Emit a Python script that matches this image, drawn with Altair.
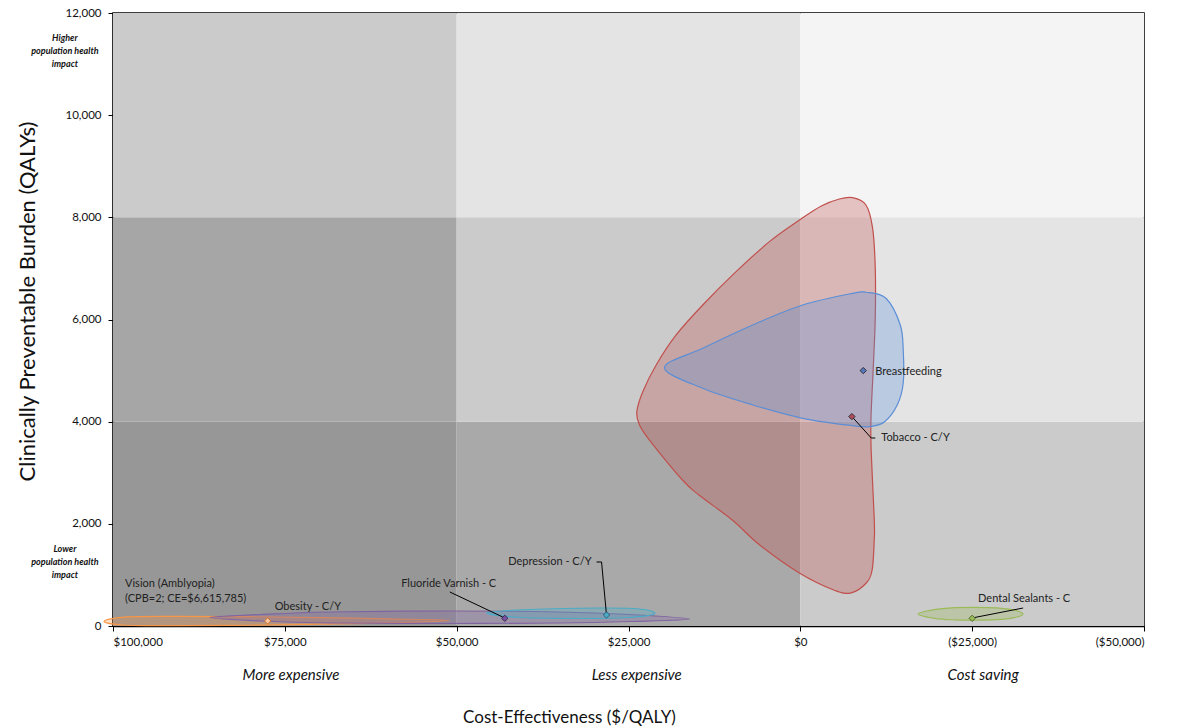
import altair as alt
import pandas as pd

FONT = "Lato"

# ---- shaded zones: three cost bands (x) by three burden bands (y) ----
zone_ce = [100000, 50000, 0, 100000, 50000, 0, 100000, 50000, 0]
zone_ce2 = [50000, 0, -50000, 50000, 0, -50000, 50000, 0, -50000]
zone_qaly = [0, 0, 0, 4000, 4000, 4000, 8000, 8000, 8000]
zone_qaly2 = [4000, 4000, 4000, 8000, 8000, 8000, 12000, 12000, 12000]
zone_fill = ["#979797", "#a9a9a9", "#cbcbcb",
             "#a6a6a6", "#cbcbcb", "#e4e4e4",
             "#cbcbcb", "#e4e4e4", "#f4f4f4"]

# ---- uncertainty regions, outlined clockwise ($/QALY, QALYs) ----
obesity_ce = [101300, 98000, 90000, 80000, 70000, 60000, 51000, 60000, 70000, 80000, 90000, 98000]
obesity_qaly = [90, 178, 188, 182, 165, 140, 110, 60, 35, 15, 8, 15]

fluoride_ce = [85900, 78600, 68500, 51000, 35000, 24900, 16100, 24900, 35000, 51000, 68500, 78600]
fluoride_qaly = [166, 225, 274, 294, 274, 225, 137, 88, 59, 49, 59, 98]

depression_ce = [45600, 39400, 29200, 23400, 21200, 24900, 32100, 40800]
depression_qaly = [255, 323, 352, 333, 245, 166, 147, 166]

dental_ce = [-17150, -19500, -22500, -25300, -28500, -31000, -32400, -31000, -28500, -25300, -22500, -19500]
dental_qaly = [235, 320, 358, 365, 355, 315, 235, 160, 125, 115, 120, 150]

tobacco_ce = [-7600, -9550, -10510, -10900, -10900, -10610, -10280, -10300, -10760, -10750,
              -10450, -9590, -7400, -4950, 150, 5950, 9900, 14700, 17150, 21950, 23400,
              23790, 22920, 20970, 18070, 14200, 9350, 4500, -100, -3050, -5670]
tobacco_qaly = [8385, 8242, 7792, 7009, 6030, 5051, 4072, 3450, 2075, 1680,
                1100, 842, 650, 700, 1038, 1590, 2075, 2560, 2858, 3640, 3935,
                4195, 4587, 5110, 5697, 6284, 6936, 7524, 7968, 8222, 8359]

breastfeeding_ce = [-9550, -12457, -14540, -14970, -14970, -14100, -12210, -10030, -7600,
                    -335, 6932, 14200, 19767, 14200, 6932, -335, -7600]
breastfeeding_qaly = [6533, 6415, 5893, 5403, 4757, 4327, 3994, 3902, 3921,
                      4066, 4327, 4653, 5057, 5437, 5893, 6284, 6513]

regions = [
    ("Obesity", obesity_ce, obesity_qaly, "#F79646"),
    ("Fluoride Varnish", fluoride_ce, fluoride_qaly, "#8064A2"),
    ("Depression", depression_ce, depression_qaly, "#4BACC6"),
    ("Dental Sealants", dental_ce, dental_qaly, "#9BBB59"),
    ("Tobacco", tobacco_ce, tobacco_qaly, "#C0504D"),
    ("Breastfeeding", breastfeeding_ce, breastfeeding_qaly, "#5B8ED6"),
]

# ---- point estimates ----
pt_name = ["Breastfeeding", "Tobacco", "Depression", "Fluoride Varnish", "Obesity", "Dental Sealants"]
pt_ce = [-9150, -7500, 28200, 43000, 77500, -25000]
pt_qaly = [5000, 4100, 215, 150, 100, 150]
pt_fill = ["#5577C0", "#B24A5E", "#4BACC6", "#7A4FA0", "#F6C9A0", "#9BBB59"]
pt_edge = ["#333333", "#333333", "#2F5F7A", "#3A2A55", "#D0702A", "#4A6A2A"]

# ---- leader lines from labels to points ----
lead_seg = ["tob", "tob", "tob", "dep", "dep", "dep", "flu", "flu", "den", "den"]
lead_ce = [-7500, -10320, -10900, 28200, 28920, 29650, 43300, 51000, -25000, -32410]
lead_qaly = [4100, 3680, 3680, 215, 1253, 1253, 176, 666, 157, 352]

# ---- point labels ----
lab_left_text = ["Breastfeeding", "Tobacco - C/Y", "Vision (Amblyopia)\n(CPB=2; CE=$6,615,785)"]
lab_left_ce = [-10900, -11770, 98250]
lab_left_qaly = [4973, 3680, 822]

lab_mid_text = ["Fluoride Varnish - C", "Obesity - C/Y", "Dental Sealants - C"]
lab_mid_ce = [51160, 71650, -32560]
lab_mid_qaly = [822, 372, 529]

lab_right_text = ["Depression - C/Y"]
lab_right_ce = [30380]
lab_right_qaly = [1253]

# ---- zone captions ----
impact_text = ["Higher\npopulation health\nimpact", "Lower\npopulation health\nimpact"]
impact_ce = [107000, 107000]
impact_qaly = [11511, 1507]

cost_text = ["More expensive", "Less expensive", "Cost saving"]
cost_ce = [74100, 23800, -26600]
cost_qaly = [-960, -960, -960]

x_ticks = [100000, 75000, 50000, 25000, 0, -25000, -50000]
y_ticks = [0, 2000, 4000, 6000, 8000, 10000, 12000]

xs = alt.Scale(domain=[-50000, 100000], reverse=True, nice=False, zero=False)
ys = alt.Scale(domain=[0, 12000], nice=False, zero=False)

x_axis = alt.Axis(
    values=x_ticks,
    labelExpr="datum.value < 0 ? '($' + format(-datum.value, ',') + ')' : '$' + format(datum.value, ',')",
    title="Cost-Effectiveness  ($/QALY)",
    titleX=456, titleY=91, titleBaseline="middle", titleAlign="center",
    titleFontSize=17, titleFontWeight="normal",
    labelPadding=5, tickSize=5, grid=False,
)
y_axis = alt.Axis(
    values=y_ticks,
    labelExpr="format(datum.value, ',.0f')",
    title="Clinically Preventable Burden (QALYs)",
    titleX=-86, titleY=288, titleAngle=270, titleBaseline="middle", titleAlign="center",
    titleFontSize=22, titleFontWeight="normal",
    labelPadding=7, tickSize=5, grid=False,
)

X = alt.X("ce:Q", scale=xs, axis=x_axis)
Y = alt.Y("qaly:Q", scale=ys, axis=y_axis)

zones = alt.Chart(pd.DataFrame({
    "ce": zone_ce, "ce2": zone_ce2, "qaly": zone_qaly, "qaly2": zone_qaly2, "fill": zone_fill,
})).mark_rect(strokeWidth=0).encode(
    x=X, x2="ce2:Q", y=Y, y2="qaly2:Q", fill=alt.Fill("fill:N", scale=None)
)

layers = [zones]
for name, ce, qaly, col in regions:
    df = pd.DataFrame({"ce": ce, "qaly": qaly, "i": list(range(len(ce)))})
    layers.append(
        alt.Chart(df).mark_line(
            interpolate="cardinal-closed", fill=col, fillOpacity=0.3,
            stroke=col, strokeWidth=1.2,
        ).encode(x=X, y=Y, order="i:Q")
    )

leads = alt.Chart(pd.DataFrame({
    "seg": lead_seg, "ce": lead_ce, "qaly": lead_qaly, "i": list(range(len(lead_seg))),
})).mark_line(color="#000000", strokeWidth=1).encode(x=X, y=Y, detail="seg:N", order="i:Q")
layers.append(leads)

points = alt.Chart(pd.DataFrame({
    "name": pt_name, "ce": pt_ce, "qaly": pt_qaly, "fill": pt_fill, "edge": pt_edge,
})).mark_point(shape="diamond", filled=True, size=40, opacity=1, strokeWidth=1).encode(
    x=X, y=Y, fill=alt.Fill("fill:N", scale=None), stroke=alt.Stroke("edge:N", scale=None)
)
layers.append(points)


def labels(texts, ce, qaly, align, **kw):
    return alt.Chart(pd.DataFrame({"t": texts, "ce": ce, "qaly": qaly})).mark_text(
        align=align, baseline="middle", font=FONT, lineBreak="\n", **kw
    ).encode(x=X, y=Y, text="t:N")


layers += [
    labels(lab_left_text, lab_left_ce, lab_left_qaly, "left", fontSize=11, color="#222222", lineHeight=15),
    labels(lab_mid_text, lab_mid_ce, lab_mid_qaly, "center", fontSize=11, color="#222222"),
    labels(lab_right_text, lab_right_ce, lab_right_qaly, "right", fontSize=11, color="#222222"),
    labels(impact_text, impact_ce, impact_qaly, "center", fontSize=9, fontStyle="italic",
           fontWeight="bold", color="#111111", lineHeight=13),
    labels(cost_text, cost_ce, cost_qaly, "center", fontSize=15, fontStyle="italic", color="#111111"),
]

chart = alt.layer(*layers).properties(
    width=1031, height=613,
    autosize=alt.AutoSizeParams(type="none"),
    padding={"left": 113, "top": 13, "right": 42, "bottom": 102},
).configure_view(
    stroke="#000000", strokeWidth=1.5
).configure_axis(
    domainColor="#000000", domainWidth=1.5, tickColor="#000000", tickWidth=1,
    labelFont=FONT, titleFont=FONT, labelFontSize=11.5, labelColor="#111111", titleColor="#111111",
)

chart.save("out.html", embed_options={"renderer": "svg", "actions": False})
